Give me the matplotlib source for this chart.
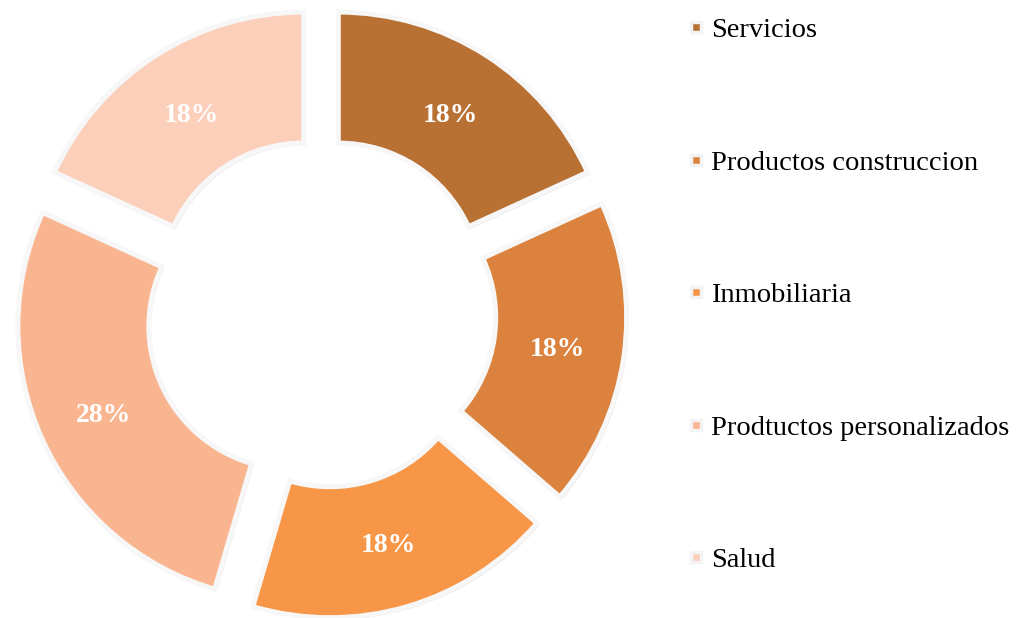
import matplotlib.pyplot as plt
import matplotlib.patheffects as pe
from matplotlib.lines import Line2D

categories = ['Servicios', 'Productos construccion', 'Inmobiliaria',
              'Prodtuctos personalizados', 'Salud']
counts = [2, 2, 2, 3, 2]
pct_labels = ['18%', '18%', '18%', '28%', '18%']
colors = ['#B87033', '#DB833E', '#F79646', '#F9B590', '#FBCFBA']

W, H = 1022, 618
fig = plt.figure(figsize=(W / 100, H / 100), dpi=100)
ax = fig.add_axes([0, 0, 1, 1])

label_iter = iter(pct_labels)
R = 274
# explode is applied in data units (pixels here)
wedges, texts, autotexts = ax.pie(
    counts, colors=colors, startangle=90, counterclock=False,
    center=(321, H - 313), radius=R, explode=[32] * len(counts),
    autopct=lambda p: next(label_iter), pctdistance=0.755,
    wedgeprops=dict(width=131, edgecolor='#f7f7f7', linewidth=3.6),
    textprops=dict(color='white', fontsize=20, fontweight='bold',
                   family='Liberation Serif'))

for w in wedges:
    w.set_path_effects([pe.SimplePatchShadow(offset=(1.5, -1.5), alpha=0.18),
                        pe.Normal()])
for t in autotexts:
    t.set_va('center_baseline')

ax.set_xlim(0, W)
ax.set_ylim(0, H)
ax.set_aspect('equal')
ax.axis('off')

handles = [Line2D([], [], linestyle='none', marker='s', markersize=7,
                  markerfacecolor=c, markeredgecolor='#f3f3f3',
                  markeredgewidth=2.5) for c in colors]
ax.legend(handles, categories, loc='upper left', bbox_to_anchor=(676 / W, 1 - 6 / H),
          frameon=False, handlelength=0.6, handletextpad=0.22,
          labelspacing=3.74, borderaxespad=0,
          prop=dict(family='Liberation Serif', size=20.5))

fig.savefig('out.png', dpi=100)
